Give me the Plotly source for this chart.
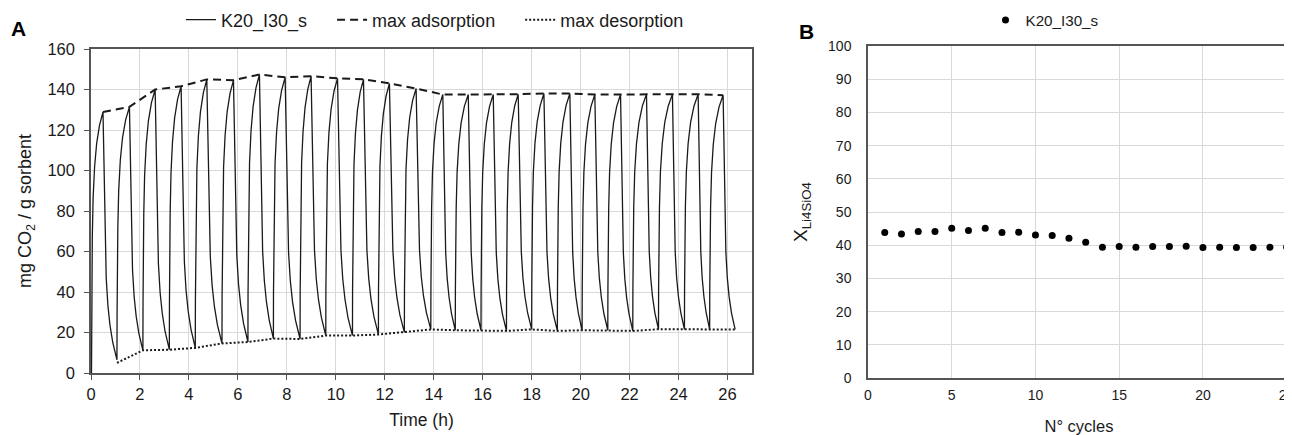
import plotly.graph_objects as go

# ---------------- Panel A data ----------------
peak_t = [0.49, 1.57, 2.62, 3.68, 4.73, 5.82, 6.88, 7.93, 8.99, 10.07, 11.13, 12.19, 13.28,
          14.37, 15.41, 16.43, 17.45, 18.50, 19.56, 20.58, 21.63, 22.69, 23.75, 24.80, 25.82]
peak_v = [128.9, 131.4, 140.0, 141.6, 145.0, 144.6, 147.4, 146.0, 146.6, 145.5, 145.0, 143.0, 140.5,
          137.5, 137.5, 137.5, 137.7, 138.0, 138.0, 137.5, 137.5, 137.7, 137.7, 137.7, 137.2]
min_t = [0.02, 1.06, 2.12, 3.20, 4.26, 5.35, 6.41, 7.45, 8.54, 9.59, 10.68, 11.74, 12.80,
         13.88, 14.88, 15.93, 16.97, 18.00, 19.05, 20.06, 21.11, 22.13, 23.18, 24.24, 25.27, 26.31]
min_v = [0.0, 6.5, 11.2, 11.5, 12.4, 14.6, 15.3, 17.0, 16.8, 18.5, 18.5, 19.0, 20.1,
         21.5, 21.1, 21.1, 20.8, 21.5, 20.8, 21.1, 21.1, 20.8, 21.6, 21.5, 21.5, 21.5]
des_t = min_t[1:]
des_v = [5.0] + min_v[2:]

# shape of one cycle (fractions of time span / of amplitude)
rise_tf = [0.0, 0.01, 0.03, 0.07, 0.14, 0.27, 0.45, 0.70, 1.0]
rise_vf = [0.0, 0.18, 0.33, 0.52, 0.67, 0.79, 0.88, 0.95, 1.0]
decay_tf = [0.0, 0.02, 0.06, 0.11, 0.17, 0.23, 0.35, 0.50, 0.70, 0.85, 1.0]
decay_vf = [1.0, 0.94, 0.83, 0.66, 0.46, 0.33, 0.22, 0.14, 0.07, 0.03, 0.0]

legend_names_a = ["K20_I30_s", "max adsorption", "max desorption"]

# ---------------- Panel B data ----------------
cycles = list(range(1, 26))
x_li4sio4 = [43.8, 43.4, 44.1, 44.1, 45.1, 44.4, 45.1, 43.8, 43.9, 43.1, 42.9, 42.1, 40.9,
             39.4, 39.6, 39.4, 39.6, 39.6, 39.7, 39.3, 39.4, 39.3, 39.3, 39.4, 39.4]

# build the cycling profile
prof_t, prof_v = [], []
for i in range(len(peak_t)):
    t0, v0, t1, v1 = min_t[i], min_v[i], peak_t[i], peak_v[i]
    for tf, vf in zip(rise_tf, rise_vf):
        prof_t.append(t0 + tf * (t1 - t0))
        prof_v.append(v0 + vf * (v1 - v0))
    t2, v2 = min_t[i + 1], min_v[i + 1]
    for tf, vf in zip(decay_tf[1:], decay_vf[1:]):
        prof_t.append(t1 + tf * (t2 - t1))
        prof_v.append(v2 + vf * (v1 - v2))

FONT = "Liberation Sans, Arial, sans-serif"
INK = "#1a1a1a"
GRID = "#d9d9d9"
AX = "#555555"
OFF = 8                      # page body margin of the html page
W, H = 1292 - OFF, 435 - OFF


def px(x):  # window x pixel -> paper fraction
    return (x - OFF) / W


def py(y):  # window y pixel (from top) -> paper fraction
    return 1 - (y - OFF) / H


NB = "\u00a0"
fig = go.Figure()
fig.add_trace(go.Scatter(x=prof_t, y=prof_v, mode="lines", name=legend_names_a[0] + NB * 4,
                         line=dict(color=INK, width=1.3), legend="legend"))
fig.add_trace(go.Scatter(x=peak_t, y=peak_v, mode="lines", name=legend_names_a[1] + NB * 4,
                         line=dict(color=INK, width=2, dash="8px,5px"), legend="legend"))
fig.add_trace(go.Scatter(x=des_t, y=des_v, mode="lines", name=legend_names_a[2],
                         line=dict(color=INK, width=2, dash="2px,2px"), legend="legend"))
fig.add_trace(go.Scatter(x=cycles, y=x_li4sio4, mode="markers", name="K20_I30_s",
                         marker=dict(color="black", size=7), xaxis="x2", yaxis="y2",
                         legend="legend2"))

axis_common = dict(showgrid=True, gridcolor=GRID, gridwidth=1, zeroline=False,
                   showline=True, linecolor=AX, linewidth=1.5, mirror=True,
                   color=INK, automargin=False, ticklabeloverflow="allow")

fig.update_layout(
    width=W, height=H,
    margin=dict(l=0, r=0, t=0, b=0, autoexpand=False),
    paper_bgcolor="white", plot_bgcolor="white",
    font=dict(family=FONT, color=INK),
    xaxis=dict(domain=[px(91), px(752)], range=[0, 27], dtick=2, ticks="outside",
               ticklen=5, tickcolor=AX, tickfont=dict(size=16.5), ticklabelstandoff=0,
               title=dict(text="Time (h)", font=dict(size=17.5), standoff=12),
               **axis_common),
    yaxis=dict(domain=[py(373), py(49)], range=[0, 160], dtick=20, ticks="outside",
               ticklen=5, tickcolor=AX, tickfont=dict(size=16.5), ticklabelstandoff=6,
               title=dict(text="mg CO<sub>2</sub> / g sorbent", font=dict(size=18), standoff=11),
               **axis_common),
    xaxis2=dict(domain=[px(868), px(1290)], range=[0, 25.2], dtick=5, anchor="y2",
                tickfont=dict(size=14), ticklabelstandoff=3,
                title=dict(text="N° cycles", font=dict(size=16.5), standoff=27),
                **axis_common),
    yaxis2=dict(domain=[py(378), py(46)], range=[0, 100], dtick=10, anchor="x2",
                tickfont=dict(size=14), ticklabelstandoff=12,
                title=dict(text="X<sub>Li4SiO4</sub>", font=dict(size=19), standoff=15),
                **axis_common),
    legend=dict(orientation="h", x=px(435), xanchor="center", y=py(20), yanchor="middle",
                font=dict(size=18), bgcolor="rgba(0,0,0,0)", itemwidth=30),
    legend2=dict(orientation="h", x=px(1045), xanchor="center", y=py(20), yanchor="middle",
                 font=dict(size=15.2), bgcolor="rgba(0,0,0,0)", itemwidth=30),
    showlegend=True,
    annotations=[
        dict(text="<b>A</b>", x=px(19), y=py(28.5), xref="paper", yref="paper",
             xanchor="center", yanchor="middle",
             showarrow=False, font=dict(size=21, color="black")),
        dict(text="<b>B</b>", x=px(806), y=py(32), xref="paper", yref="paper",
             xanchor="center", yanchor="middle",
             showarrow=False, font=dict(size=21, color="black")),
    ],
)

fig.write_html("out.html")
